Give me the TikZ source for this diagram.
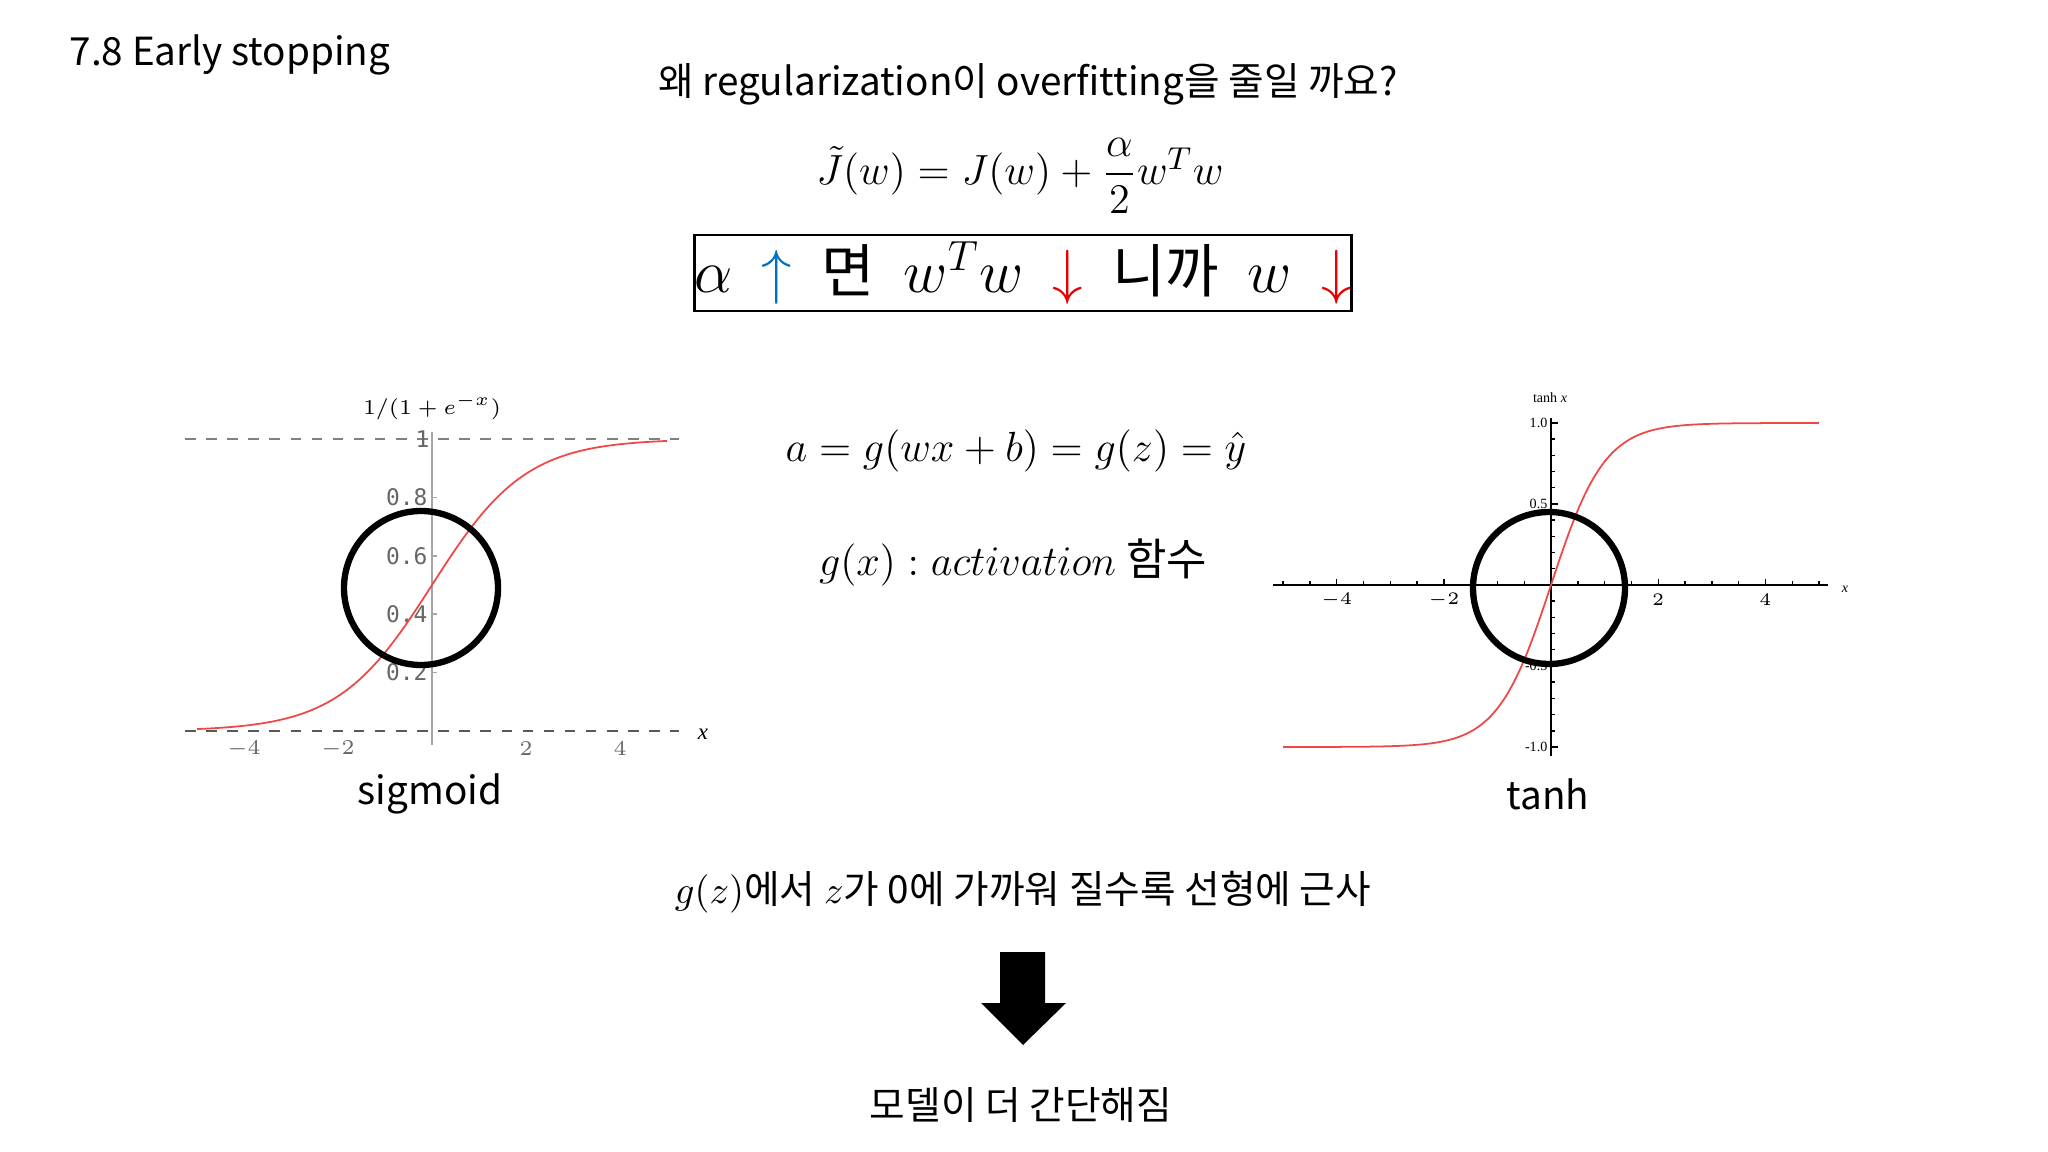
\documentclass[tikz,border=0pt]{standalone}
\usepackage{amsmath}
\usepackage{fontspec}
\setmainfont{Noto Sans CJK KR}
\newfontfamily\plotmono{DejaVu Sans Mono}
\newfontfamily\plotserif{Liberation Serif}
\definecolor{curve}{RGB}{240,70,70}
\definecolor{upblue}{RGB}{0,112,192}
\definecolor{downred}{RGB}{230,0,0}
\begin{document}
\begin{tikzpicture}[x=0.01cm,y=-0.01cm,
  txt/.style={inner sep=0pt,font=\fontsize{11}{13}\selectfont},
  mathtxt/.style={inner sep=0pt,font=\fontsize{12.5}{14}\selectfont},
  ring/.style={draw=black,line width=1.8pt},
  fcurve/.style={draw=curve,line width=0.5pt},
  smono/.style={inner sep=0pt,text=gray!80!black,font=\plotmono\fontsize{6.5}{7}\selectfont},
  sserif/.style={inner sep=0pt,font=\plotserif\fontsize{4}{5}\selectfont}]
\useasboundingbox (0,0) rectangle (2048,1152);
% header
\node[txt,anchor=west] (title) at (69,55) {7.8 Early stopping};
\node[txt] (q) at (1028,84) {왜 regularization이 overfitting을 줄일 까요?};
\node[mathtxt] (f1) at (1020,176) {$\tilde J(w) = J(w) + \dfrac{\alpha}{2} w^T w$};
\node[draw,line width=0.8pt,minimum width=6.41cm,minimum height=21.6pt,inner sep=0pt,font=\fontsize{16.5}{18}\selectfont] (box) at (1023,273)
  {$\alpha$\enspace\textcolor{upblue}{$\uparrow$}\enspace 면\enspace $w^Tw$\enspace\textcolor{downred}{$\downarrow$}\enspace 니까\enspace $w$\enspace\textcolor{downred}{$\downarrow$}};
% sigmoid plot
\draw[gray,dashed,line width=0.5pt] (185,439) -- (679,439);
\draw[gray!70!black,dashed,line width=0.6pt] (185,731) -- (679,731);
\draw[gray!70,line width=0.4pt] (432,432) -- (432,745);
\foreach \v/\l in {0.2/0.2,0.4/0.4,0.6/0.6,0.8/0.8}{
  \node[smono,anchor=east] at (428,{731-292*\v}) {\l};
  \draw[gray!70] (432,{731-292*\v}) -- (437,{731-292*\v});}
\node[smono,anchor=east] at (430,439) {1};
\foreach \v in {-4,-2,2,4}{\node[smono] at ({432+47*\v},749) {$\v$};}
\node[inner sep=0pt,font=\plotserif\fontsize{6.5}{7}\selectfont] (slab) at (432,407) {$1/(1+e^{-x})$};
\node[inner sep=0pt,font=\plotserif\itshape\fontsize{6.5}{7}\selectfont] (sx) at (703,734) {x};
\draw[fcurve] plot[domain=-5:5,samples=80,smooth] ({432+47*\x},{731-292/(1+exp(-\x))});
\draw[ring] (421,588) circle (77);
\node[txt] (sig) at (430,794) {sigmoid};
% tanh plot
\draw[line width=0.6pt] (1273,585) -- (1828,585);
\draw[line width=0.6pt] (1551,418) -- (1551,756);
\foreach \v in {-5,-4.5,...,5}{\draw (1551+53.6*\v,585) -- (1551+53.6*\v,581);}
\foreach \v in {-4,-2,2,4}{\draw (1551+53.6*\v,585) -- (1551+53.6*\v,579);
  \node[sserif] at ({1551+53.6*\v},600) {$\v$};}
\foreach \v in {-1,-0.9,...,1.01}{\draw (1551,{585-162*\v}) -- (1555,{585-162*\v});}
\foreach \v/\l in {1/1.0,0.5/0.5,-0.5/-0.5,-1/-1.0}{
  \draw (1551,{585-162*\v}) -- (1558,{585-162*\v});
  \node[sserif,anchor=east] at (1548,{585-162*\v}) {\l};}
\node[sserif] (tl) at (1550,398) {tanh \textit{x}};
\node[sserif] (tx) at (1845,589) {\textit{x}};
\draw[fcurve] plot[domain=-5:5,samples=80,smooth] ({1551+53.6*\x},{585-162*tanh(\x)});
\draw[ring] (1549,588) circle (76);
\node[txt] (th) at (1548,794) {tanh};
% center formulas
\node[mathtxt] (f2) at (1016,451) {$a = g(wx+b) = g(z) = \hat y$};
\node[mathtxt] (f3) at (1013,562) {$g(x) : activation$ 함수};
% bottom
\node[txt] (conc) at (1023,892) {$g(z)$에서 $z$가 0에 가까워 질수록 선형에 근사};
\fill[black] (1000,952) -- (1045,952) -- (1045,1003) -- (1066,1003) -- (1023,1045) -- (981,1003) -- (1000,1003) -- cycle;
\node[txt] (res) at (1021,1105) {모델이 더 간단해짐};
\end{tikzpicture}
\end{document}
